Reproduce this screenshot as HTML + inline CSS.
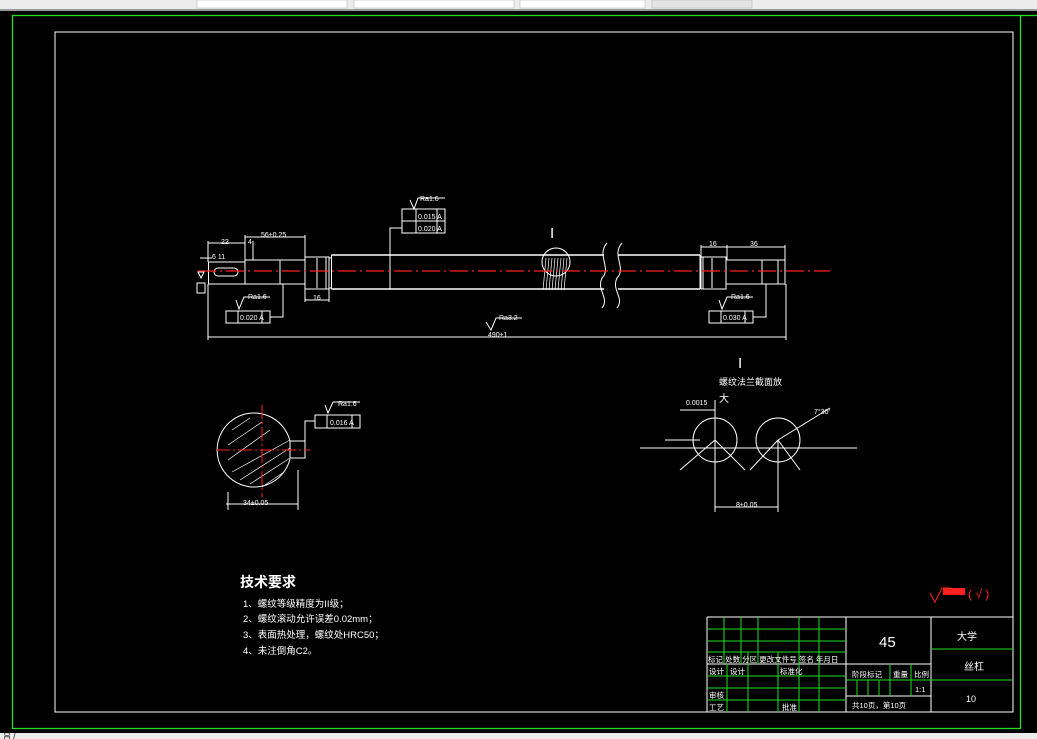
<!DOCTYPE html>
<html><head><meta charset="utf-8"><style>
html,body{margin:0;padding:0;background:#000;width:1037px;height:739px;overflow:hidden}
svg{display:block}
text{font-family:"Liberation Sans","WenQuanYi Zen Hei","Noto Sans CJK SC",sans-serif;fill:#fff}
</style></head><body>
<svg width="1037" height="739" viewBox="0 0 1037 739" xmlns="http://www.w3.org/2000/svg">
<rect width="1037" height="739" fill="#000"/>
<!-- top toolbar strip -->
<rect x="0" y="0" width="1037" height="11" fill="#ececec"/>
<rect x="0" y="9" width="1037" height="2" fill="#9a9a9a"/>
<rect x="197" y="0" width="150" height="8" fill="#fff" stroke="#aaa" stroke-width="0.5"/>
<rect x="354" y="0" width="160" height="8" fill="#fff" stroke="#aaa" stroke-width="0.5"/>
<rect x="520" y="0" width="125" height="8" fill="#fff" stroke="#aaa" stroke-width="0.5"/>
<rect x="652" y="0" width="100" height="8" fill="#e4e4e4" stroke="#aaa" stroke-width="0.5"/>
<!-- bottom strip -->
<rect x="0" y="733" width="1037" height="6" fill="#ececec"/>
<text x="3" y="739" font-size="8" style="fill:#000">吕 /</text>
<!-- borders -->
<rect x="12.5" y="15.5" width="1008" height="713" fill="none" stroke="#22dd22" stroke-width="1.3"/>
<line x1="1021" y1="15.5" x2="1037" y2="15.5" stroke="#22dd22" stroke-width="1.3"/>
<rect x="55" y="32" width="958" height="680" fill="none" stroke="#fff" stroke-width="1"/>

<g stroke="#fff" stroke-width="1" fill="none">
<!-- shaft -->
<rect x="208.5" y="262" width="36.5" height="22"/>
<rect x="214" y="268" width="24" height="8" rx="4"/>
<rect x="245" y="260" width="60" height="24"/>
<rect x="305" y="257" width="24" height="32"/>
<line x1="326" y1="257" x2="326" y2="289"/>
<rect x="329" y="258" width="2.5" height="30"/>
<line x1="331.5" y1="255" x2="604" y2="255" stroke-width="1.6"/>
<line x1="331.5" y1="289" x2="604" y2="289" stroke-width="1.6"/>
<line x1="331.5" y1="255" x2="331.5" y2="289"/>
<line x1="618" y1="255" x2="700" y2="255" stroke-width="1.6"/>
<line x1="618" y1="289" x2="700" y2="289" stroke-width="1.6"/>
<line x1="700" y1="255" x2="700" y2="289"/>
<rect x="701" y="257" width="25" height="32"/>
<line x1="703" y1="257" x2="703" y2="289"/>
<rect x="726" y="260" width="59" height="24"/>
<line x1="778" y1="260" x2="778" y2="284"/>
<!-- break lines -->
<path d="M607,243 C596,255 612,268 602,278 C596,290 610,298 602,308"/>
<path d="M622,243 C611,255 627,268 617,278 C611,290 625,298 617,308"/>
<!-- thread detail circle -->
<circle cx="556" cy="262" r="14"/>
<g stroke-width="0.7">
<path d="M546,258 L543,290 M549,258 L546,290 M552,258 L549,290 M555,258 L552,290 M558,258 L555,290 M561,258 L558,290 M564,258 L561,290 M567,258 L564,290"/>
</g>
<!-- dims -->
<line x1="208" y1="337" x2="786" y2="337"/>
<line x1="208" y1="284" x2="208" y2="340"/>
<line x1="786" y1="284" x2="786" y2="340"/>
<line x1="208" y1="243" x2="245" y2="243"/>
<line x1="208" y1="241" x2="208" y2="262"/>
<line x1="245" y1="237" x2="305" y2="237"/>
<line x1="245" y1="235" x2="245" y2="260"/>
<line x1="305" y1="235" x2="305" y2="257"/>
<line x1="253" y1="241" x2="253" y2="260"/>
<line x1="305" y1="300" x2="329" y2="300"/>
<line x1="305" y1="289" x2="305" y2="302"/>
<line x1="329" y1="289" x2="329" y2="302"/>
<line x1="701" y1="247" x2="785" y2="247"/>
<line x1="701" y1="245" x2="701" y2="257"/>
<line x1="727" y1="245" x2="727" y2="260"/>
<line x1="785" y1="245" x2="785" y2="260"/>
<line x1="200" y1="258" x2="212" y2="258"/>
<line x1="390" y1="255" x2="390" y2="289"/>
<line x1="317" y1="258" x2="317" y2="288"/>
<line x1="712" y1="258" x2="712" y2="288"/>
<line x1="280" y1="260" x2="280" y2="284"/>
<line x1="762" y1="260" x2="762" y2="284"/>
<!-- frame boxes -->
<rect x="402" y="209" width="43" height="24"/>
<line x1="402" y1="221" x2="445" y2="221"/>
<line x1="416" y1="209" x2="416" y2="233"/>
<line x1="437" y1="209" x2="437" y2="233"/>
<path d="M390,255 L390,228 L402,228"/>
<path d="M410,200 L414,209 L418,198 L445,198"/>
<rect x="226" y="311" width="44" height="12"/>
<line x1="238" y1="311" x2="238" y2="323"/><line x1="262" y1="311" x2="262" y2="323"/>
<path d="M270,317 L283,317 L283,284"/>
<path d="M236,300 L239,309 L244,297 L270,297"/>
<rect x="709" y="311" width="44" height="12"/>
<line x1="721" y1="311" x2="721" y2="323"/><line x1="745" y1="311" x2="745" y2="323"/>
<path d="M753,317 L766,317 L766,284"/>
<path d="M719,300 L722,309 L727,297 L753,297"/>
<path d="M486,322 L491,330 L496,318 L522,318"/>
<path d="M198,272 L201,278 L204,272 Z"/>
<rect x="197" y="283" width="8" height="10"/>
<!-- section view -->
<path d="M290,441 A37,37 0 1 0 290,459"/>
<rect x="290" y="441" width="15" height="17"/>
<g stroke-width="0.7">
<path d="M232,430 L250,418 M228,445 L262,422 M228,460 L270,430 M232,472 L290,440 M240,480 L290,448 M250,484 L290,458 M262,487 L284,472"/>
</g>
<line x1="228" y1="492" x2="228" y2="510"/>
<line x1="298" y1="470" x2="298" y2="510"/>
<line x1="226" y1="504" x2="298" y2="504"/>
<rect x="315" y="415" width="45" height="13"/>
<line x1="327" y1="415" x2="327" y2="428"/><line x1="352" y1="415" x2="352" y2="428"/>
<path d="M315,421 L305,421 L305,450"/>
<path d="M325,405 L328,413 L333,402 L360,402"/>
<!-- detail view -->
<circle cx="715" cy="440" r="22"/>
<circle cx="778" cy="440" r="22"/>
<line x1="640" y1="448" x2="857" y2="448"/>
<line x1="665" y1="440" x2="700" y2="440"/>
<line x1="715" y1="440" x2="680" y2="470"/>
<line x1="715" y1="440" x2="745" y2="470"/>
<line x1="778" y1="440" x2="750" y2="470"/>
<line x1="778" y1="440" x2="800" y2="470"/>
<line x1="778" y1="440" x2="830" y2="408"/>
<line x1="715" y1="400" x2="715" y2="512"/>
<line x1="778" y1="440" x2="778" y2="512"/>
<line x1="715" y1="507" x2="778" y2="507"/>
<line x1="680" y1="410" x2="715" y2="410"/>
<!-- title block -->
<line x1="707" y1="617" x2="1013" y2="617"/>
<line x1="707" y1="617" x2="707" y2="712"/>
<line x1="846" y1="617" x2="846" y2="712"/>
<line x1="931" y1="617" x2="931" y2="712"/>
<line x1="846" y1="664" x2="931" y2="664"/>
<line x1="846" y1="696" x2="931" y2="696"/>
<line x1="707" y1="664" x2="846" y2="664"/>
</g>
<!-- centerline -->
<line x1="198" y1="271" x2="830" y2="271" stroke="#ff2020" stroke-width="1.3" stroke-dasharray="18,4,2,4"/>
<line x1="216" y1="450" x2="310" y2="450" stroke="#ff2020" stroke-width="1" stroke-dasharray="14,3,2,3"/>
<line x1="262" y1="405" x2="262" y2="497" stroke="#ff2020" stroke-width="1" stroke-dasharray="14,3,2,3"/>
<!-- green grid -->
<g stroke="#22dd22" stroke-width="1">
<line x1="707" y1="629" x2="846" y2="629"/>
<line x1="707" y1="641" x2="846" y2="641"/>
<line x1="707" y1="652" x2="846" y2="652"/>
<line x1="707" y1="676" x2="846" y2="676"/>
<line x1="707" y1="688" x2="846" y2="688"/>
<line x1="707" y1="700" x2="846" y2="700"/>
<line x1="724" y1="617" x2="724" y2="664"/>
<line x1="741" y1="617" x2="741" y2="664"/>
<line x1="758" y1="617" x2="758" y2="664"/>
<line x1="799" y1="617" x2="799" y2="712"/>
<line x1="819" y1="617" x2="819" y2="712"/>
<line x1="727" y1="664" x2="727" y2="712"/>
<line x1="748" y1="652" x2="748" y2="712"/>
<line x1="778" y1="652" x2="778" y2="712"/>
<line x1="846" y1="680" x2="931" y2="680"/>
<line x1="857" y1="680" x2="857" y2="696"/>
<line x1="868" y1="680" x2="868" y2="696"/>
<line x1="879" y1="680" x2="879" y2="696"/>
<line x1="890" y1="664" x2="890" y2="696"/>
<line x1="911" y1="664" x2="911" y2="696"/>
<line x1="931" y1="649" x2="1013" y2="649"/>
<line x1="931" y1="680" x2="1013" y2="680"/>
</g>
<!-- texts -->
<g font-size="7">
<text x="221" y="244">22</text>
<text x="261" y="237">56±0.25</text>
<text x="248" y="244">4</text>
<text x="212" y="259">6 11</text>
<text x="313" y="300">16</text>
<text x="709" y="246">16</text>
<text x="750" y="246">36</text>
<text x="488" y="337">490±1</text>
<text x="420" y="201">Ra1.6</text>
<text x="418" y="219">0.015 A</text>
<text x="418" y="231">0.020 A</text>
<text x="248" y="299">Ra1.6</text>
<text x="240" y="320">0.020 A</text>
<text x="731" y="299">Ra1.6</text>
<text x="723" y="320">0.030 A</text>
<text x="499" y="320">Ra3.2</text>
<text x="338" y="406">Ra1.6</text>
<text x="330" y="425">0.016 A</text>
<text x="243" y="505">34±0.05</text>
<text x="686" y="405">0.0015</text>
<text x="736" y="507">8±0.05</text>
<text x="814" y="414">7°30'</text>
</g>
<text x="550" y="238" font-size="15" font-family="Liberation Serif">I</text>
<text x="738" y="368" font-size="15" font-family="Liberation Serif">I</text>
<text x="719" y="385" font-size="9">螺纹法兰截面放</text>
<text x="719" y="402" font-size="10">大</text>
<text x="240" y="587" font-size="14" font-weight="bold">技术要求</text>
<g font-size="9.5">
<text x="243" y="607">1、螺纹等级精度为II级；</text>
<text x="243" y="622">2、螺纹滚动允许误差0.02mm；</text>
<text x="243" y="638">3、表面热处理，螺纹处HRC50；</text>
<text x="243" y="654">4、未注倒角C2。</text>
</g>
<path d="M930,593 L935,602 L942,588 L950,588" stroke="#ff2020" fill="none"/>
<rect x="943" y="588" width="22" height="7" fill="#ff2020"/>
<text x="968" y="598" font-size="12" style="fill:#ff2020">( √ )</text>
<text x="879" y="647" font-size="15">45</text>
<text x="957" y="640" font-size="10">大学</text>
<text x="964" y="670" font-size="10">丝杠</text>
<text x="966" y="702" font-size="9">10</text>
<g font-size="7.5">
<text x="708" y="662">标记 处数 分区 更改文件号 签名 年月日</text>
<text x="709" y="674">设计</text><text x="730" y="674">设计</text><text x="780" y="674">标准化</text>
<text x="709" y="698">审核</text>
<text x="709" y="710">工艺</text><text x="782" y="710">批准</text>
<text x="852" y="677">阶段标记</text><text x="893" y="677">重量</text><text x="914" y="677">比例</text>
<text x="915" y="692">1:1</text>
<text x="852" y="708">共10页，第10页</text>
</g>
</svg>
</body></html>
